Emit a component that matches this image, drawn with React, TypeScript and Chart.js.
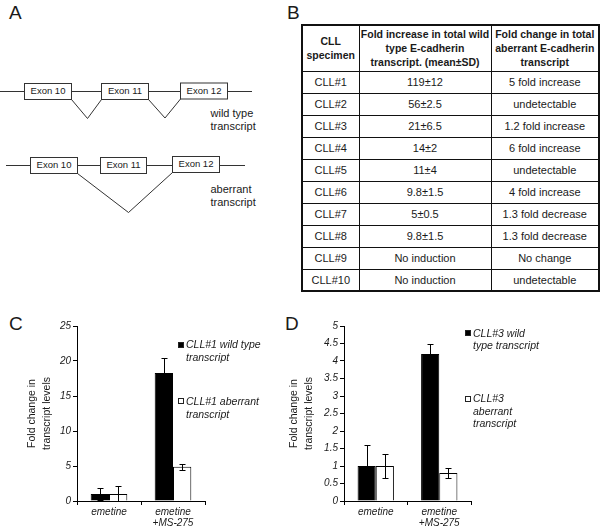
import React, { useEffect, useRef } from "react";
import { Chart, registerables } from "chart.js";

Chart.register(...registerables);

const FONT = '"Liberation Sans", Arial, Helvetica, sans-serif';
const INK = "#1a1a1a";

// ---------- Panel B: table data ----------
const TABLE_HEADERS: string[][] = [
  ["CLL", "specimen"],
  ["Fold increase in total wild", "type E-cadherin", "transcript. (mean±SD)"],
  ["Fold change in total", "aberrant E-cadherin", "transcript"],
];
const SPECIMENS = ["CLL#1", "CLL#2", "CLL#3", "CLL#4", "CLL#5", "CLL#6", "CLL#7", "CLL#8", "CLL#9", "CLL#10"];
const WT_FOLD = ["119±12", "56±2.5", "21±6.5", "14±2", "11±4", "9.8±1.5", "5±0.5", "9.8±1.5", "No induction", "No induction"];
const ABERRANT_FOLD = [
  "5 fold increase",
  "undetectable",
  "1.2 fold increase",
  "6 fold increase",
  "undetectable",
  "4 fold increase",
  "1.3 fold decrease",
  "1.3 fold decrease",
  "No change",
  "undetectable",
];

// ---------- Panels C and D: chart data ----------
const CATEGORIES: (string | string[])[] = ["emetine", ["emetine", "+MS-275"]];
const Y_TITLE = ["Fold change in", "transcript levels"];

const C_WILD = [1, 18.3];
const C_WILD_ERR = [0.8, 2.2];
const C_ABERRANT = [1, 4.9];
const C_ABERRANT_ERR = [1.1, 0.45];
const C_Y_TICKS = [0, 5, 10, 15, 20, 25];
const C_LEGEND = [
  ["CLL#1 wild type", "transcript"],
  ["CLL#1 aberrant", "transcript"],
];

const D_WILD = [1, 4.2];
const D_WILD_ERR = [0.6, 0.3];
const D_ABERRANT = [1, 0.8];
const D_ABERRANT_ERR = [0.33, 0.13];
const D_Y_TICKS = [0, 0.5, 1, 1.5, 2, 2.5, 3, 3.5, 4, 4.5, 5];
const D_LEGEND = [
  ["CLL#3 wild", "type transcript"],
  ["CLL#3", "aberrant", "transcript"],
];

// ---------- Panel A: diagram labels ----------
const EXON_LABELS = ["Exon 10", "Exon 11", "Exon 12"];
const TRANSCRIPT_LABELS = [
  ["wild type", "transcript"],
  ["aberrant", "transcript"],
];

type PanelProps = {
  left: number;
  top: number;
  width: number;
  height: number;
  yWidth: number;
  padRight: number;
  padTop: number;
  xHeight: number;
  titlePad: number;
  wild: number[];
  wildErr: number[];
  aberrant: number[];
  aberrantErr: number[];
  yMax: number;
  yTicks: number[];
  legend: string[][];
};

function BarPanel(p: PanelProps) {
  const ref = useRef<HTMLCanvasElement>(null);
  useEffect(() => {
    const errs = [p.wildErr, p.aberrantErr];
    const errorBars = {
      id: "errorBars",
      afterDatasetsDraw(chart: any) {
        const ctx = chart.ctx;
        const y = chart.scales.y;
        chart.data.datasets.forEach((ds: any, i: number) => {
          const meta = chart.getDatasetMeta(i);
          meta.data.forEach((bar: any, j: number) => {
            const v = ds.data[j] as number;
            const e = errs[i][j];
            const x = Math.round(bar.x) + 0.5;
            const yt = Math.round(y.getPixelForValue(v + e)) + 0.5;
            const yb = Math.round(y.getPixelForValue(Math.max(v - e, 0))) + 0.5;
            ctx.save();
            ctx.strokeStyle = "#000";
            ctx.lineWidth = 1;
            ctx.beginPath();
            ctx.moveTo(x, yt);
            ctx.lineTo(x, yb);
            ctx.moveTo(x - 3, yt);
            ctx.lineTo(x + 3, yt);
            ctx.moveTo(x - 3, yb);
            ctx.lineTo(x + 3, yb);
            ctx.stroke();
            ctx.restore();
          });
        });
      },
    };
    const chart = new Chart(ref.current as HTMLCanvasElement, {
      type: "bar",
      data: {
        labels: CATEGORIES as any,
        datasets: [
          {
            label: p.legend[0].join(" "),
            data: p.wild,
            backgroundColor: "#000",
            borderColor: "#000",
            borderWidth: 1,
          },
          {
            label: p.legend[1].join(" "),
            data: p.aberrant,
            backgroundColor: "#fff",
            borderColor: "#000",
            borderWidth: 1,
          },
        ],
      },
      options: {
        animation: false,
        responsive: false,
        devicePixelRatio: 1,
        layout: { padding: { top: p.padTop, right: p.padRight, bottom: 0, left: 0 } },
        plugins: { legend: { display: false }, tooltip: { enabled: false } },
        datasets: { bar: { categoryPercentage: 0.572, barPercentage: 1 } },
        scales: {
          x: {
            grid: { drawOnChartArea: false, drawTicks: true, tickLength: 4, color: "#000", offset: true },
            border: { color: "#000", width: 1 },
            ticks: {
              font: { family: FONT, size: 10, style: "italic", lineHeight: 1.05 },
              color: INK,
              padding: 2,
              maxRotation: 0,
              autoSkip: false,
            },
            afterFit: (s: any) => {
              s.height = p.xHeight;
            },
          },
          y: {
            min: 0,
            max: p.yMax,
            afterBuildTicks: (s: any) => {
              s.ticks = p.yTicks.map((v) => ({ value: v }));
            },
            grid: { drawOnChartArea: false, drawTicks: true, tickLength: 4, color: "#000" },
            border: { color: "#000", width: 1 },
            ticks: {
              font: { family: FONT, size: 10, style: "italic" },
              color: INK,
              padding: 2,
              callback: (v: any) => String(v),
            },
            title: {
              display: true,
              text: Y_TITLE,
              color: INK,
              font: { family: FONT, size: 10.5, lineHeight: 1.45 },
              padding: { top: p.titlePad, bottom: 0 },
            },
            afterFit: (s: any) => {
              s.width = p.yWidth;
            },
          },
        },
      } as any,
      plugins: [errorBars],
    });
    return () => chart.destroy();
  }, []);
  return (
    <canvas
      ref={ref}
      width={p.width}
      height={p.height}
      style={{ position: "absolute", left: p.left, top: p.top, width: p.width, height: p.height }}
    />
  );
}

function Legend(props: {
  x: number;
  items: string[][];
  centers: number[][];
  lineH: number;
}) {
  return (
    <>
      {props.items.map((lines, i) => (
        <React.Fragment key={i}>
          <div
            style={{
              position: "absolute",
              left: props.x,
              top: props.centers[i][0] - 3,
              width: 6,
              height: 6,
              background: i === 0 ? "#000" : "#fff",
              border: "1px solid #222",
              boxSizing: "border-box",
            }}
          />
          {lines.map((t, k) => (
            <div
              key={k}
              style={{
                position: "absolute",
                left: props.x + 8,
                top: props.centers[i][0] - props.lineH / 2 + k * props.lineH,
                height: props.lineH,
                lineHeight: props.lineH + "px",
                fontSize: 10.5,
                fontStyle: "italic",
                color: INK,
                whiteSpace: "nowrap",
              }}
            >
              {t}
            </div>
          ))}
        </React.Fragment>
      ))}
    </>
  );
}

function PanelLetter(props: { text: string; left: number; top: number }) {
  return (
    <div
      style={{
        position: "absolute",
        left: props.left,
        top: props.top,
        fontSize: 19,
        lineHeight: "19px",
        color: INK,
      }}
    >
      {props.text}
    </div>
  );
}

function Diagram() {
  const stroke = "#333";
  const wtBoxes = [
    [24.5, 83.5, 47, 16],
    [101.5, 83.5, 47, 16],
    [180.5, 83, 47, 16],
  ];
  const abBoxes = [
    [30.5, 157.5, 47, 16],
    [100.5, 157.5, 46, 16],
    [172.5, 156.5, 47, 16],
  ];
  const box = (b: number[], k: number, key: string) => (
    <g key={key}>
      <rect x={b[0]} y={b[1]} width={b[2]} height={b[3]} fill="#fff" stroke={stroke} strokeWidth={1} />
      <text
        x={b[0] + b[2] / 2}
        y={b[1] + b[3] / 2 - 1}
        textAnchor="middle"
        dominantBaseline="central"
        fontSize={9.5}
        fill={INK}
        fontFamily={FONT}
      >
        {EXON_LABELS[k]}
      </text>
    </g>
  );
  return (
    <svg
      width={290}
      height={230}
      style={{ position: "absolute", left: 0, top: 0 }}
      viewBox="0 0 290 230"
    >
      <line x1={0} y1={91.5} x2={252} y2={91.5} stroke={stroke} strokeWidth={1} />
      <polyline points="71.5,99.5 87.5,118.5 101.5,99.5" fill="none" stroke={stroke} strokeWidth={1} />
      <polyline points="148.5,99.5 165,118 180.5,99" fill="none" stroke={stroke} strokeWidth={1} />
      {wtBoxes.map((b, k) => box(b, k, "w" + k))}
      <line x1={6} y1={165.5} x2={245} y2={165.5} stroke={stroke} strokeWidth={1} />
      <polyline points="77.5,173.5 128.5,212.5 172.5,172.5" fill="none" stroke={stroke} strokeWidth={1} />
      {abBoxes.map((b, k) => box(b, k, "a" + k))}
      {TRANSCRIPT_LABELS.map((lines, i) =>
        lines.map((t, k) => (
          <text
            key={i + "-" + k}
            x={210.5}
            y={(i === 0 ? 113 : 189) + k * 13}
            dominantBaseline="central"
            fontSize={11}
            fill={INK}
            fontFamily={FONT}
          >
            {t}
          </text>
        ))
      )}
    </svg>
  );
}

function Table() {
  const cell: React.CSSProperties = {
    border: "1px solid #111",
    textAlign: "center",
    verticalAlign: "middle",
    padding: 0,
    fontSize: 11,
    color: INK,
    whiteSpace: "nowrap",
  };
  const head: React.CSSProperties = {
    ...cell,
    fontSize: 10.5,
    fontWeight: "bold",
    lineHeight: "14px",
  };
  return (
    <table
      style={{
        position: "absolute",
        left: 301,
        top: 24,
        width: 297,
        borderCollapse: "collapse",
        tableLayout: "fixed",
        border: "2px solid #111",
        fontFamily: FONT,
      }}
    >
      <colgroup>
        <col style={{ width: 57 }} />
        <col style={{ width: 132 }} />
        <col style={{ width: 108 }} />
      </colgroup>
      <tbody>
        <tr style={{ height: 46 }}>
          {TABLE_HEADERS.map((lines, i) => (
            <td key={i} style={head}>
              {lines.map((t, k) => (
                <div key={k}>{t}</div>
              ))}
            </td>
          ))}
        </tr>
        {SPECIMENS.map((s, i) => (
          <tr key={s} style={{ height: 22 }}>
            <td style={cell}>{s}</td>
            <td style={cell}>{WT_FOLD[i]}</td>
            <td style={cell}>{ABERRANT_FOLD[i]}</td>
          </tr>
        ))}
      </tbody>
    </table>
  );
}

export default function App() {
  return (
    <div
      style={{
        position: "absolute",
        left: 0,
        top: 0,
        width: 600,
        height: 529,
        background: "#fff",
        overflow: "hidden",
        fontFamily: FONT,
      }}
    >
      <PanelLetter text="A" left={9} top={3} />
      <PanelLetter text="B" left={287} top={3} />
      <PanelLetter text="C" left={9} top={314} />
      <PanelLetter text="D" left={285} top={314} />
      <Diagram />
      <Table />
      <BarPanel
        left={0}
        top={300}
        width={290}
        height={229}
        yWidth={77}
        padRight={85}
        padTop={26}
        xHeight={28}
        titlePad={24.5}
        wild={C_WILD}
        wildErr={C_WILD_ERR}
        aberrant={C_ABERRANT}
        aberrantErr={C_ABERRANT_ERR}
        yMax={25}
        yTicks={C_Y_TICKS}
        legend={C_LEGEND}
      />
      <BarPanel
        left={280}
        top={300}
        width={320}
        height={229}
        yWidth={64}
        padRight={129}
        padTop={26}
        xHeight={28}
        titlePad={6.5}
        wild={D_WILD}
        wildErr={D_WILD_ERR}
        aberrant={D_ABERRANT}
        aberrantErr={D_ABERRANT_ERR}
        yMax={5}
        yTicks={D_Y_TICKS}
        legend={D_LEGEND}
      />
      <Legend x={178} items={C_LEGEND} centers={[[344.5], [401]]} lineH={13} />
      <Legend x={465} items={D_LEGEND} centers={[[333], [398.5]]} lineH={12.3} />
    </div>
  );
}
